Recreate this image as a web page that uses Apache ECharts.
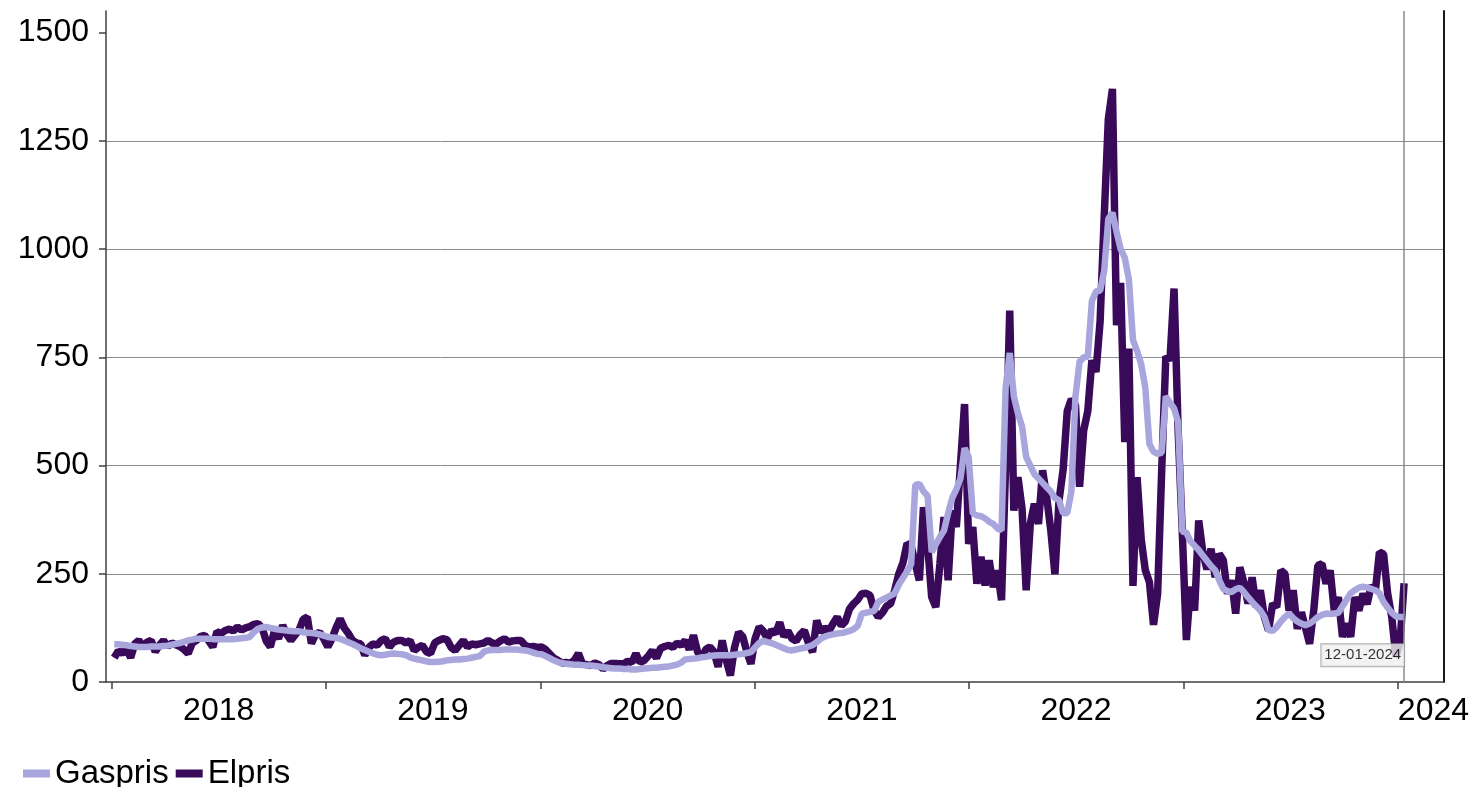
<!DOCTYPE html>
<html>
<head>
<meta charset="utf-8">
<script src="https://cdn.jsdelivr.net/npm/echarts@6/dist/echarts.min.js"></script>
<style>html,body{margin:0;padding:0;background:#fff}#c{width:1476px;height:787px}</style>
</head>
<body>
<div id="c"></div>
<script>
// ---- data (weekly, Fridays, starting 2018-01-05) ----
const seriesNames = ['Gaspris', 'Elpris'];
const firstWeek = [2018, 0, 5];

const gas2018 = [87,87,86,85,83, 82,81,81,81,82, 82,82,83,84,86, 88,90,93,96,98, 100,100,100,100,99, 99,99,99,99,99, 100,101,102,104,115, 123,126,127,125,123, 121,120,119,118,117, 117,115,114,113,112, 110,107];
const gas2019 = [104,103,102,100,96, 92,88,83,78,74, 70,66,63,62,63, 65,66,65,64,62, 57,54,52,50,48, 46,46,47,48,50, 51,52,52,53,54, 56,58,60,70,73, 74,74,74,75,75, 75,75,74,73,71, 68,65];
const gas2020 = [64,60,55,50,46, 44,42,41,40,40, 39,38,38,37,36, 34,33,32,31,31, 30,30,29,29,30, 31,32,33,33,34, 35,36,38,40,45, 52,53,54,55,57, 58,60,61,62,62, 62,62,63,64,65, 67,69];
const gas2021 = [80,90,95,92,90, 86,82,78,74,73, 75,77,79,82,85, 92,100,105,108,110, 112,113,115,118,122, 130,158,160,162,164, 185,190,195,200,205, 225,240,255,272,455, 458,440,430,300,318, 335,350,390,425,445, 470,540,520];
const gas2022 = [390,385,383,378,370, 365,355,350,680,760, 660,620,590,520,500, 480,470,460,450,440, 425,420,390,390,440, 660,740,750,752,880, 902,904,950,1070,1084, 1040,1000,980,930,790, 765,734,680,550,532, 527,530,660,645,632, 600,348];
const gas2023 = [345,325,315,305,292, 280,268,258,235,215, 210,208,214,218,208, 196,185,175,165,150, 120,118,127,140,150, 158,148,140,135,131, 135,142,150,155,158, 157,158,160,175,190, 205,212,218,220,218, 215,212,205,185,172, 160,152];
const gas2024 = [150,150];

const el2018 = [56,72,66,77,56, 88,96,82,92,96, 70,85,96,82,90, 86,82,75,66,90, 96,105,108,95,81, 116,112,119,122,118, 127,120,125,128,133, 135,125,95,81,118, 100,131,110,96,108, 120,145,150,89,110, 115,100];
const el2019 = [81,100,125,146,125, 112,96,90,88,62, 80,88,85,96,100, 81,92,96,96,90, 96,73,80,85,70, 66,90,96,100,98, 80,73,85,96,81, 88,86,88,90,96, 90,88,95,100,92, 95,96,96,85,81, 82,80];
const el2020 = [81,75,65,55,50, 44,45,43,50,66, 42,40,38,44,40, 30,38,43,43,42, 42,48,45,66,45, 50,60,73,55,78, 82,85,80,90,85, 96,75,108,70,55, 75,81,70,35,96, 50,15,80,115,105, 70,42];
const el2021 = [100,127,118,100,120, 112,138,105,118,100, 95,110,119,90,69, 142,115,125,118,135, 150,130,140,169,181, 190,204,205,200,165, 150,160,175,181,212, 250,275,320,315,273, 235,404,319,196,173, 273,381,235,396,358, 500,642,319];
const el2022 = [358,227,289,223,281, 219,258,189,500,858, 396,473,400,212,365, 412,365,489,427,350, 249,420,491,626,653, 640,451,581,626,743, 716,833,1075,1300,1370, 824,922,554,770,222, 473,330,258,231,132, 204,491,752,743,909, 581,348];
const el2023 = [97,220,165,373,300, 260,308,242,296,281, 204,235,158,265,230, 181,242,173,212,150, 119,181,173,258,250, 165,212,123,161,125, 88,165,269,273,227, 258,165,196,104,135, 104,196,165,204,180, 223,210,300,296,204, 150,58];
const el2024 = [90,228];

const yearTicks = [2018, 2019, 2020, 2021, 2022, 2023, 2024];
const yearLabels = ['2018', '2019', '2020', '2021', '2022', '2023', '2024'];
const yTicks = [0, 250, 500, 750, 1000, 1250, 1500];
const markerDate = [2024, 0, 12];
const markerLabel = '12-01-2024';

// ---- build ----
const gas = [].concat(gas2018, gas2019, gas2020, gas2021, gas2022, gas2023, gas2024);
const el = [].concat(el2018, el2019, el2020, el2021, el2022, el2023, el2024);
const DAY = 864e5;
const t0 = Date.UTC(firstWeek[0], firstWeek[1], firstWeek[2]);
const dates = gas.map((_, i) => t0 + i * 7 * DAY);
const markerTs = Date.UTC(markerDate[0], markerDate[1], markerDate[2]);

const labelPos = yearLabels.map((s, i) => {
  const y = +s;
  return i < yearLabels.length - 1 ? Date.UTC(y, 6, 2) : Date.UTC(y, 2, 2);
});

const FONT = "'Liberation Sans', Arial, sans-serif";
const GAS_C = '#a9a6de', EL_C = '#3a0a5a';
const chart = echarts.init(document.getElementById('c'), null, {renderer: 'canvas'});
chart.setOption({
  animation: false,
  backgroundColor: '#fff',
  textStyle: {fontFamily: FONT},
  grid: {left: 106, right: 32, top: 11, bottom: 105, containLabel: false},
  legend: {
    data: seriesNames.map(n => ({name: n, icon: 'rect'})),
    left: 18, top: 752,
    itemWidth: 27, itemHeight: 8, itemGap: 7,
    textStyle: {fontSize: 33, color: '#000', fontFamily: FONT}
  },
  xAxis: {
    type: 'value',
    min: Date.UTC(2017, 11, 22),
    max: Date.UTC(2024, 2, 20),
    axisLine: {show: true, lineStyle: {color: '#404040', width: 1.5}},
    axisTick: {show: true, customValues: yearTicks.map(y => Date.UTC(y, 0, 1)), length: 7, lineStyle: {color: '#404040', width: 1.5}},
    axisLabel: {
      customValues: labelPos,
      formatter: v => String(new Date(v).getUTCFullYear()),
      fontSize: 32, color: '#000', margin: 13, fontFamily: FONT
    },
    splitLine: {show: false}
  },
  yAxis: [{
    type: 'value', min: 0, max: 1550,
    axisLine: {show: true, lineStyle: {color: '#404040', width: 1.5}},
    axisTick: {show: true, customValues: yTicks, length: 7, lineStyle: {color: '#404040', width: 1.5}},
    axisLabel: {customValues: yTicks, formatter: v => String(v), fontSize: 32, color: '#000', margin: 17, fontFamily: FONT},
    splitLine: {show: true, showMinLine: false, showMaxLine: false, lineStyle: {color: '#8c8c8c', width: 1}}
  }, {
    type: 'value', min: 0, max: 1550, position: 'right',
    axisLine: {show: true, lineStyle: {color: '#1a1a1a', width: 2}},
    axisTick: {show: false}, axisLabel: {show: false}, splitLine: {show: false}
  }],
  series: [{
    name: 'Gaspris', type: 'line', z: 4,
    data: dates.map((d, i) => [d, gas[i]]),
    symbol: 'none', showSymbol: false,
    lineStyle: {color: GAS_C, width: 6.5}, itemStyle: {color: GAS_C}
  }, {
    name: 'Elpris', type: 'line', z: 3,
    data: dates.map((d, i) => [d, el[i]]),
    symbol: 'none', showSymbol: false,
    lineStyle: {color: EL_C, width: 7.5}, itemStyle: {color: EL_C}
  }, {
    name: 'marker', type: 'scatter', z: 5,
    data: [[markerTs, 62]],
    symbolSize: 0,
    label: {
      show: true, position: 'left', distance: 0,
      formatter: markerLabel, fontSize: 15, color: '#000', fontFamily: FONT,
      backgroundColor: '#f0f0f0', borderColor: '#999', borderWidth: 1, padding: [4, 3, 3, 3]
    },
    markLine: {
      silent: true, symbol: ['none', 'none'], animation: false,
      data: [{xAxis: markerTs}],
      lineStyle: {color: '#8c8c8c', width: 1.5, type: 'solid'},
      label: {show: false}
    }
  }]
});
</script>
</body>
</html>
